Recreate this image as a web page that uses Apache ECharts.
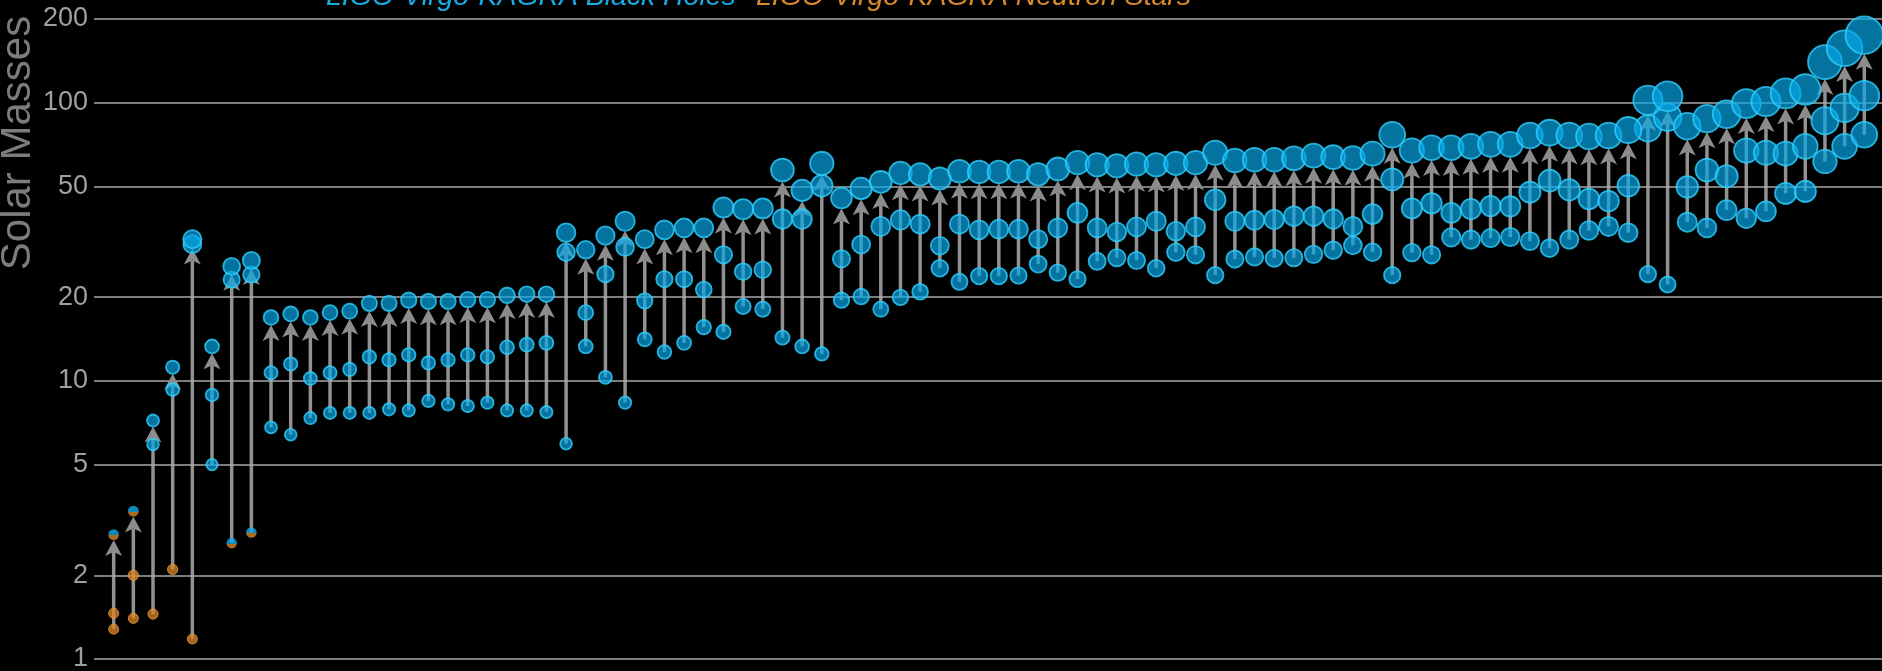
<!DOCTYPE html>
<html>
<head>
<meta charset="utf-8">
<title>Masses in the Stellar Graveyard</title>
<script src="https://cdn.jsdelivr.net/npm/echarts@6/dist/echarts.min.js"></script>
<style>
  html, body { margin: 0; padding: 0; background: #000; }
  #chart { width: 1882px; height: 671px; }
</style>
</head>
<body>
<div id="chart"></div>
<script>
// Component and remnant masses (solar masses) of each merger, ordered left to right.
const primaryMass = [
  1.46, 2.0, 5.9, 9.3, 31.0, 8.9, 23.1, 24.1, 10.7, 11.5,
  10.2, 10.7, 11.0, 12.2, 11.9, 12.4, 11.6, 11.9, 12.4, 12.2,
  13.2, 13.5, 13.7, 29.0, 17.6, 24.2, 30.3, 19.4, 23.2, 23.2,
  21.3, 28.4, 24.7, 25.1, 38.2, 38.2, 50.3, 27.5, 30.9, 35.9,
  37.9, 36.6, 30.6, 36.6, 34.9, 35.1, 35.1, 32.3, 35.5, 40.2,
  35.5, 34.3, 35.8, 37.5, 34.5, 35.8, 44.8, 37.5, 37.8, 38.0,
  39.1, 39.1, 38.2, 35.9, 39.8, 53.0, 41.7, 43.5, 40.2, 41.5,
  42.5, 42.4, 47.7, 52.5, 48.6, 45.1, 44.3, 50.3, 80.9, 88.7,
  49.8, 57.3, 54.4, 67.3, 66.1, 65.6, 69.7, 86.1, 95.8, 106
];
const secondaryMass = [
  1.28, 1.4, 1.45, 2.1, 1.18, 5.0, 2.61, 2.85, 6.8, 6.4,
  7.35, 7.67, 7.67, 7.67, 7.9, 7.83, 8.47, 8.23, 8.12, 8.35,
  7.83, 7.83, 7.72, 5.94, 13.3, 10.3, 8.35, 14.1, 12.7, 13.7,
  15.6, 15.0, 18.5, 18.1, 14.3, 13.3, 12.5, 19.5, 20.1, 18.1,
  19.95, 20.9, 25.4, 22.7, 23.8, 23.8, 23.9, 26.3, 24.5, 23.2,
  26.9, 27.7, 27.1, 25.4, 29.0, 28.4, 24.0, 27.4, 27.9, 27.6,
  27.7, 28.5, 29.5, 30.7, 29.0, 24.0, 28.9, 28.4, 32.8, 32.2,
  32.6, 32.9, 31.8, 30.0, 32.2, 34.7, 35.9, 34.1, 24.2, 22.2,
  37.2, 35.5, 41.1, 38.4, 40.7, 47.2, 48.0, 61.5, 69.7, 76.7
];
const remnantMass = [
  2.8, 3.4, 7.2, 11.2, 32.3, 13.3, 25.8, 27.1, 16.9, 17.4,
  16.9, 17.6, 17.8, 19.0, 19.0, 19.5, 19.3, 19.3, 19.6, 19.6,
  20.3, 20.5, 20.5, 34.1, 29.6, 33.3, 37.5, 32.3, 34.9, 35.5,
  35.5, 42.0, 41.4, 41.7, 57.3, 48.4, 60.5, 45.4, 49.2, 51.9,
  55.9, 55.3, 53.4, 56.7, 56.4, 56.4, 56.7, 55.3, 57.8, 60.9,
  59.8, 59.3, 60.2, 59.8, 60.5, 60.9, 66.1, 62.0, 62.4, 62.4,
  63.1, 64.5, 63.7, 63.3, 65.6, 76.7, 67.3, 68.9, 68.9, 69.7,
  70.9, 70.9, 76.2, 78.0, 76.2, 75.6, 76.2, 79.7, 102, 105.5,
  82.3, 87.7, 90.9, 99.3, 101, 108, 111.6, 140, 157, 175
];

// Which objects are neutron stars, or could be either kind (indices into the arrays above).
const neutronPrimary = [0, 1];
const neutronSecondary = [0, 1, 2, 3, 4];
const ambiguousSecondary = [6, 7];
const ambiguousRemnant = [0, 1];

const yTicks = [1, 2, 5, 10, 20, 50, 100, 200];
const legendLabels = ['LIGO-Virgo-KAGRA Black Holes', 'LIGO-Virgo-KAGRA Neutron Stars'];

const FONT = '"Liberation Sans", Arial, Helvetica, sans-serif';
const BLUE = 'rgba(8, 168, 232, 0.86)';
const BLUE_EDGE = 'rgba(48, 208, 255, 1)';
const ORANGE = 'rgba(216, 134, 38, 0.95)';
const ORANGE_EDGE = 'rgba(236, 158, 62, 0.95)';

// Marker diameter grows with mass.
function dotSize(m) { return Math.sqrt(92 + 7.5 * m); }

function bhStyle() { return { color: BLUE, borderColor: BLUE_EDGE, borderWidth: 1.8 }; }
function nsStyle() { return { color: ORANGE, borderColor: ORANGE_EDGE, borderWidth: 1 }; }
function mixedStyle() {
  return {
    color: new echarts.graphic.LinearGradient(0, 0, 0, 1, [
      { offset: 0, color: 'rgb(18, 170, 230)' },
      { offset: 0.55, color: 'rgb(18, 170, 230)' },
      { offset: 0.55, color: 'rgb(216, 134, 38)' },
      { offset: 1, color: 'rgb(216, 134, 38)' }
    ]),
    borderWidth: 0
  };
}

function points(masses, nsList, mixedList) {
  return masses.map((m, i) => {
    let style = bhStyle();
    if (nsList.indexOf(i) >= 0) style = nsStyle();
    if (mixedList.indexOf(i) >= 0) style = mixedStyle();
    return { value: [i + 1, m], itemStyle: style };
  });
}

const arrowData = remnantMass.map((m, i) => [i + 1, secondaryMass[i], m]);

// Vertical connector from the lighter component up to the remnant, ending in an arrowhead.
function renderArrow(params, api) {
  const x = api.value(0);
  const lo = api.coord([x, api.value(1)]);
  const hi = api.coord([x, api.value(2)]);
  const tipY = hi[1] + dotSize(api.value(2)) / 2;
  const headH = 16, headW = 17, notch = 4;
  return {
    type: 'group',
    children: [
      {
        type: 'line',
        shape: { x1: lo[0], y1: lo[1], x2: lo[0], y2: tipY + headH - notch },
        style: { stroke: 'rgba(170, 170, 170, 0.85)', lineWidth: 3.5 }
      },
      {
        type: 'polygon',
        shape: {
          points: [
            [hi[0], tipY],
            [hi[0] + headW / 2, tipY + headH],
            [hi[0], tipY + headH - notch],
            [hi[0] - headW / 2, tipY + headH]
          ]
        },
        style: { fill: 'rgb(140, 140, 140)' }
      }
    ]
  };
}

const chart = echarts.init(document.getElementById('chart'), null, { renderer: 'canvas' });

chart.setOption({
  backgroundColor: '#000',
  animation: false,
  grid: { left: 94, right: 0, top: 19, bottom: 12, containLabel: false },
  xAxis: {
    type: 'value', min: 0, max: 90.9,
    show: false
  },
  yAxis: {
    type: 'log', logBase: 10, min: 1, max: 200,
    axisLine: { show: false },
    axisTick: { show: false },
    axisLabel: { show: false },
    splitLine: { show: false }
  },
  graphic: [
    {
      type: 'text', x: 18, y: 143, rotation: Math.PI / 2,
      style: {
        text: 'Solar Masses', fill: '#7c7c7c', fontSize: 42, fontFamily: FONT,
        align: 'center', verticalAlign: 'middle'
      }
    },
    {
      type: 'text', x: 326, y: -3,
      style: {
        text: legendLabels[0], fill: '#18ace6', fontSize: 28.4, fontStyle: 'italic',
        fontFamily: FONT, align: 'left', verticalAlign: 'middle'
      }
    },
    {
      type: 'text', x: 756, y: -3,
      style: {
        text: legendLabels[1], fill: '#d9882c', fontSize: 28.4, fontStyle: 'italic',
        fontFamily: FONT, align: 'left', verticalAlign: 'middle'
      }
    }
  ],
  series: [
    {
      type: 'custom',
      name: 'arrows',
      z: 2,
      clip: false,
      renderItem: renderArrow,
      data: arrowData,
      silent: true,
      markLine: {
        z: 1,
        silent: true,
        symbol: ['none', 'none'],
        lineStyle: { color: '#7d7d7d', width: 2, type: 'solid' },
        label: {
          show: true, position: 'start', distance: 6,
          color: '#a0a0a0', fontSize: 27, fontFamily: FONT,
          formatter: p => String(p.value)
        },
        data: yTicks.map(v => ({ yAxis: v }))
      }
    },
    {
      type: 'scatter', name: 'secondary', z: 3, clip: false, silent: true,
      symbolSize: v => dotSize(v[1]),
      data: points(secondaryMass, neutronSecondary, ambiguousSecondary)
    },
    {
      type: 'scatter', name: 'primary', z: 4, clip: false, silent: true,
      symbolSize: v => dotSize(v[1]),
      data: points(primaryMass, neutronPrimary, [])
    },
    {
      type: 'scatter', name: 'remnant', z: 5, clip: false, silent: true,
      symbolSize: v => dotSize(v[1]),
      data: points(remnantMass, [], ambiguousRemnant)
    }
  ]
});
</script>
</body>
</html>
